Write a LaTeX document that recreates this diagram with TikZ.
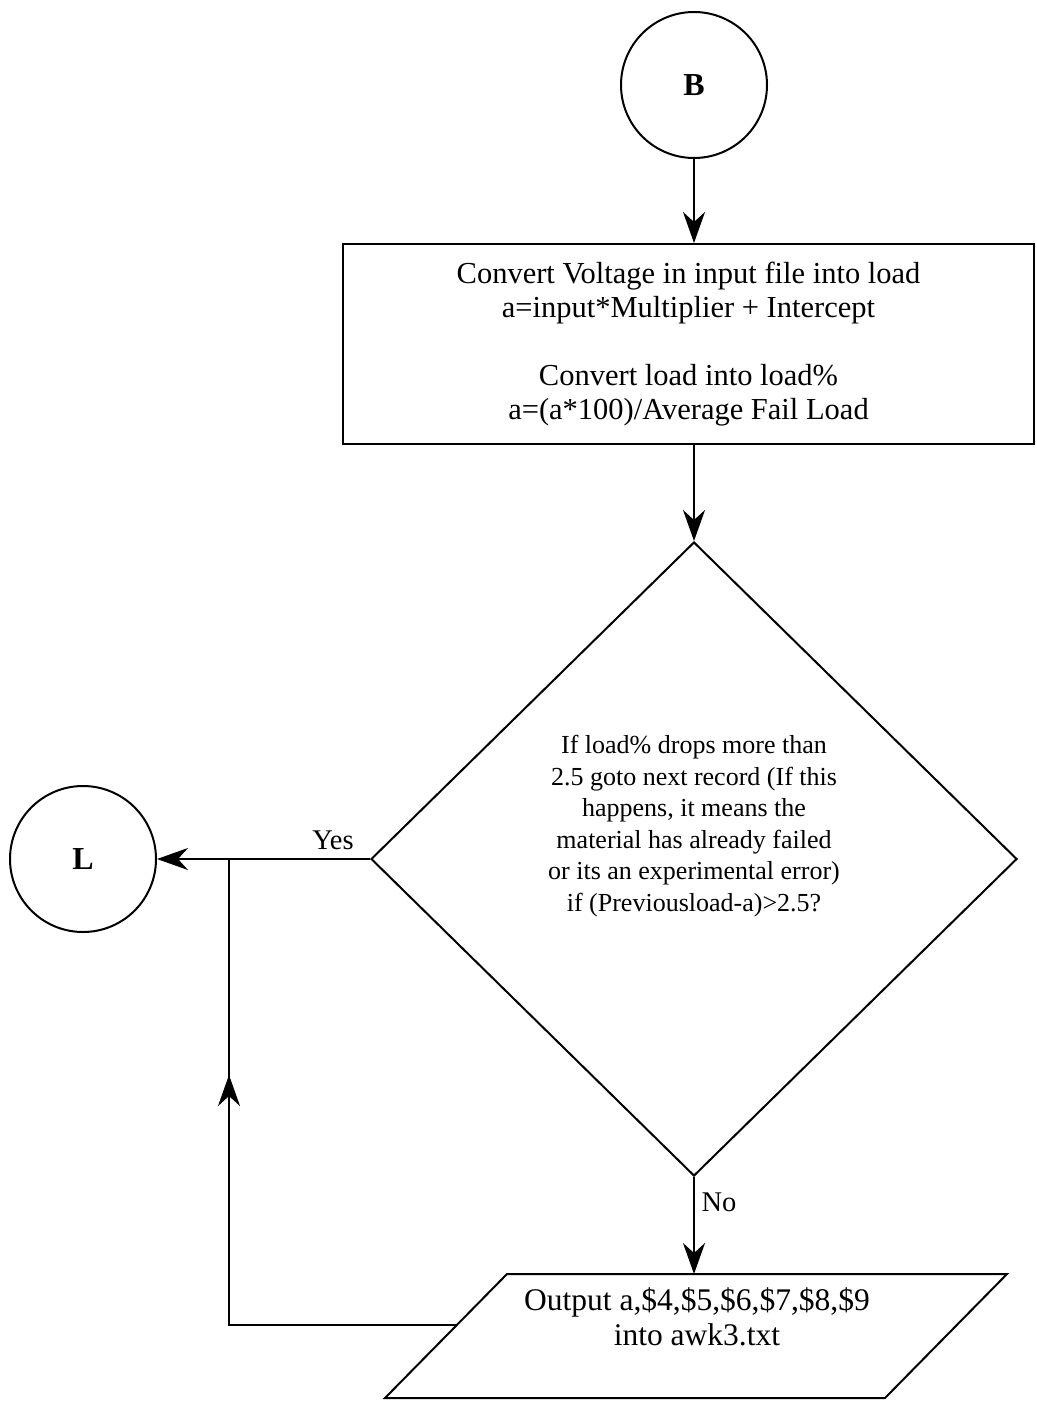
\documentclass[tikz,border=0pt]{standalone}
\usepackage{fontspec}
\setmainfont{Liberation Serif}
\usetikzlibrary{shapes.geometric,arrows.meta}
\begin{document}
\begin{tikzpicture}[x=1pt,y=-1pt,
  line width=2pt,
  flow/.style={-{Stealth[length=31pt,width=22pt,inset=10pt]}},
  conn/.style={draw,circle,minimum size=146pt,inner sep=0pt,font=\fontsize{32}{36}\selectfont\bfseries},
  procbox/.style={draw,rectangle,minimum width=691pt,minimum height=200pt,inner sep=0pt,align=center,font=\fontsize{30.5}{34}\selectfont},
  decide/.style={draw,diamond,minimum width=646pt,minimum height=634pt,inner sep=0pt},
  txt/.style={align=center,inner sep=0pt},
  lbl/.style={inner sep=0pt,font=\fontsize{28.5}{32}\selectfont}
]
\useasboundingbox (0,0) rectangle (1036,1402);

% connectors in and out
\node[conn] (B) at (694,85) {B};
\node[conn] (L) at (83,859) {L};

% conversion step
\node[procbox] (conv) at (688.5,344) {Convert Voltage in input file into load\\
a=input*Multiplier + Intercept\\[34pt]
Convert load into load\%\\
a=(a*100)/Average Fail Load};

% decision
\node[decide] (dec) at (694,859) {};
\node[txt,font=\fontsize{26}{31.5}\selectfont] (dtext) at (694,826) {If load\% drops more than\\
2.5 goto next record (If this\\
happens, it means the\\
material has already failed\\
or its an experimental error)\\
if (Previousload-a)>2.5?};

% output parallelogram
\coordinate (pTL) at (507,1274);
\coordinate (pTR) at (1007,1274);
\coordinate (pBR) at (885,1398);
\coordinate (pBL) at (385,1398);
\draw (pTL) -- (pTR) -- (pBR) -- (pBL) -- cycle;
\node[txt,font=\fontsize{31.5}{35}\selectfont] (out) at (697,1317) {Output a,\$4,\$5,\$6,\$7,\$8,\$9\\into awk3.txt};

% main flow
\draw[flow] (B.south) -- (B.south |- conv.north);
\draw[flow] (dec.north |- conv.south) -- (dec.north);
\draw[flow] (dec.south) -- (dec.south |- pTL);
\draw[flow] (dec.west) -- (L.east);

% loop back from the output
\coordinate (pin) at (457,1325);
\coordinate (lc) at (229,1325);
\coordinate (lj) at (229,859);
\coordinate (lm) at (229,1075);
\draw (pin) -- (lc) -- (lj);
\draw[flow] (lc) -- (lm);

% branch labels
\node[lbl] (yes) at (333,840) {Yes};
\node[lbl] (no) at (719,1202) {No};
\end{tikzpicture}
\end{document}
